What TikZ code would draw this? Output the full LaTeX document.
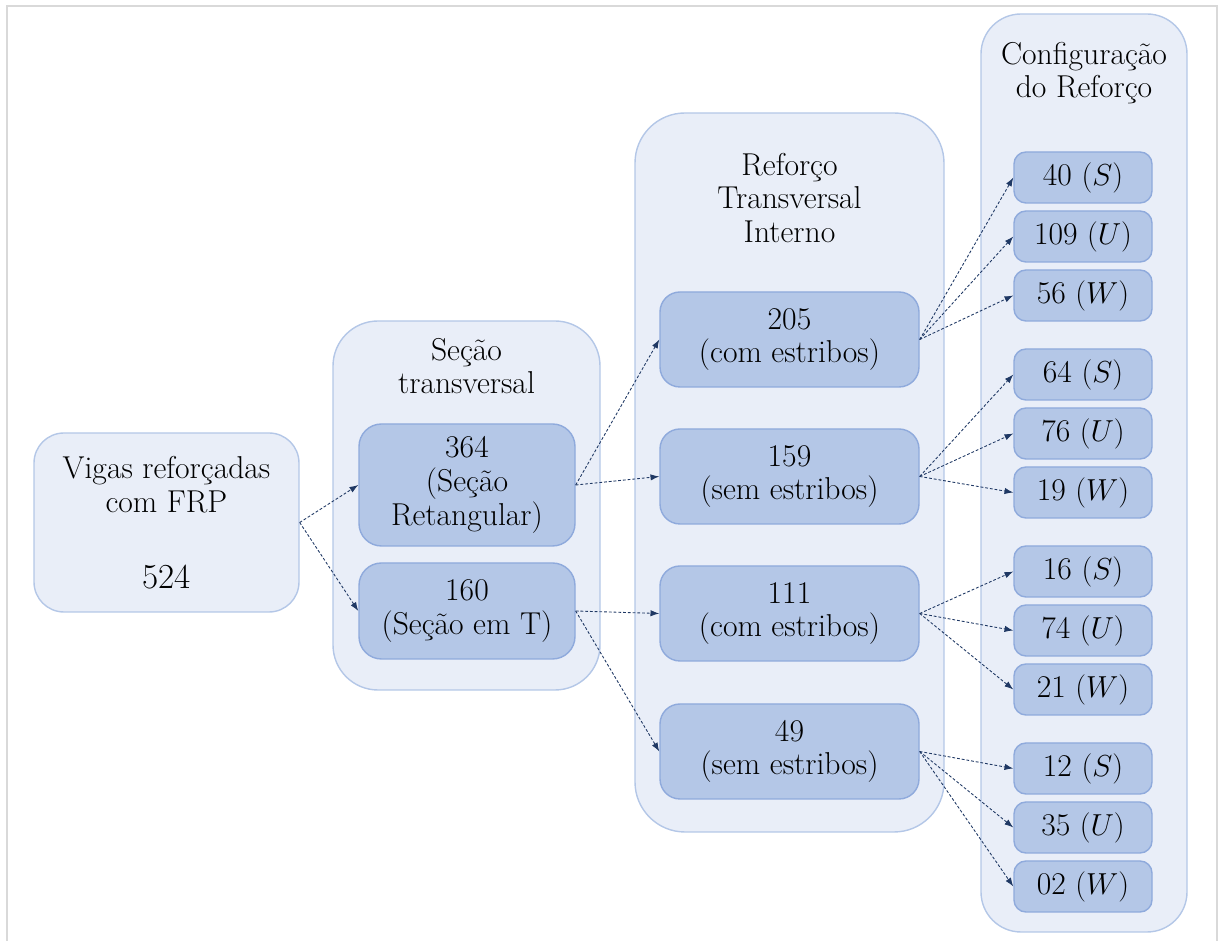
\documentclass[tikz,border=0pt]{standalone}
\usetikzlibrary{arrows.meta}
\definecolor{grpfill}{HTML}{E9EEF8}
\definecolor{grpline}{HTML}{B4C7E7}
\definecolor{boxfill}{HTML}{B4C7E7}
\definecolor{boxline}{HTML}{8FAADC}
\definecolor{arrline}{HTML}{1F3864}
\definecolor{frameline}{HTML}{D9D9D9}
\pgfdeclarelayer{bg}
\pgfsetlayers{bg,main}

\begin{document}
\begin{tikzpicture}
  [every node/.style={rectangle,align=center,inner sep=0pt,
     font=\fontsize{18}{19.2}\selectfont},
   grp/.style={fill=grpfill,draw=grpline,line width=0.8pt},
   sbox/.style={fill=boxfill,draw=boxline,line width=0.8pt,
     rounded corners=0.45cm,minimum width=4.32cm},
   rbox/.style={fill=boxfill,draw=boxline,line width=0.8pt,
     rounded corners=0.4cm,minimum width=5.18cm,minimum height=1.9cm},
   cbox/.style={fill=boxfill,draw=boxline,line width=0.8pt,
     rounded corners=0.24cm,minimum width=2.76cm,minimum height=1.02cm},
   link/.style={draw=arrline,line width=0.5pt,dash pattern=on 1.6pt off 1.1pt,
     -{Latex[length=5pt,width=3.6pt]}}]
  \useasboundingbox (0,0) rectangle (24.38,18.82);
  \draw[frameline,line width=1.1pt] (0.14,0) -- (0.14,18.7) -- (24.34,18.7) -- (24.34,0);

  \node[grp,rounded corners=0.6cm,minimum width=5.3cm,minimum height=3.58cm]
  (vig) at (3.33,8.37) {Vigas reforçadas\\com FRP\\[0.85cm]{\fontsize{20}{21}\selectfont 524}};

  \node[sbox,minimum height=2.44cm] (s1) at (9.34,9.12) {364\\(Seção\\Retangular)};
  \node[sbox,minimum height=1.92cm] (s2) at (9.34,6.6) {160\\(Seção em T)};

  \node[rbox] (r1) at (15.79,12.03) {205\\(com estribos)};
  \node[rbox] (r2) at (15.79,9.29) {159\\(sem estribos)};
  \node[rbox] (r3) at (15.79,6.55) {111\\(com estribos)};
  \node[rbox] (r4) at (15.79,3.79) {49\\(sem estribos)};

  \node[cbox] (c1) at (21.66,15.27) {40 $(S)$};
  \node[cbox] (c2) at (21.66,14.09) {109 $(U)$};
  \node[cbox] (c3) at (21.66,12.91) {56 $(W)$};
  \node[cbox] (c4) at (21.66,11.33) {64 $(S)$};
  \node[cbox] (c5) at (21.66,10.15) {76 $(U)$};
  \node[cbox] (c6) at (21.66,8.97) {19 $(W)$};
  \node[cbox] (c7) at (21.66,7.39) {16 $(S)$};
  \node[cbox] (c8) at (21.66,6.21) {74 $(U)$};
  \node[cbox] (c9) at (21.66,5.03) {21 $(W)$};
  \node[cbox] (c10) at (21.66,3.45) {12 $(S)$};
  \node[cbox] (c11) at (21.66,2.27) {35 $(U)$};
  \node[cbox] (c12) at (21.66,1.09) {02 $(W)$};

\draw[link] (vig.east) -- (s1.west);
\draw[link] (vig.east) -- (s2.west);
\draw[link] (s1.east) -- (r1.west);
\draw[link] (s1.east) -- (r2.west);
\draw[link] (s2.east) -- (r3.west);
\draw[link] (s2.east) -- (r4.west);
\draw[link] (r1.east) -- (c1.west);
\draw[link] (r1.east) -- (c2.west);
\draw[link] (r1.east) -- (c3.west);
\draw[link] (r2.east) -- (c4.west);
\draw[link] (r2.east) -- (c5.west);
\draw[link] (r2.east) -- (c6.west);
\draw[link] (r3.east) -- (c7.west);
\draw[link] (r3.east) -- (c8.west);
\draw[link] (r3.east) -- (c9.west);
\draw[link] (r4.east) -- (c10.west);
\draw[link] (r4.east) -- (c11.west);
\draw[link] (r4.east) -- (c12.west);

\begin{pgfonlayer}{bg}
  \filldraw[grp,rounded corners=0.9cm] (6.66,5.02) rectangle (12.0,12.4);
  \filldraw[grp,rounded corners=1cm] (12.7,2.18) rectangle (18.88,16.56);
  \filldraw[grp,rounded corners=0.8cm] (19.62,0.18) rectangle (23.74,18.54);
\end{pgfonlayer}

\node (l1) at (9.33,11.5) {Seção\\transversal};
\node (l2) at (15.79,14.86) {Reforço\\Transversal\\Interno};
\node (l3) at (21.68,17.36) {Configuração\\do Reforço};

\end{tikzpicture}
\end{document}
